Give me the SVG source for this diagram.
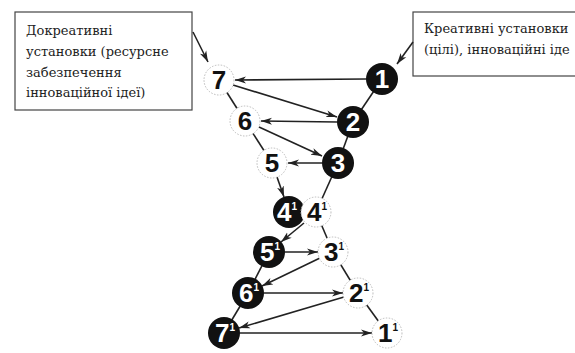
<svg xmlns="http://www.w3.org/2000/svg" width="575" height="353" viewBox="0 0 575 353">
<style>
.box{fill:#fff;stroke:#444;stroke-width:1.2}
.lbl{font-family:"DejaVu Serif","Liberation Serif",serif;font-size:13px;fill:#222}
.bb{stroke:#222;stroke-width:1.6;fill:none}
.ar{stroke:#222;stroke-width:1.6;fill:none;marker-end:url(#ah)}
.w{fill:#fff;stroke:#bbb;stroke-width:1;stroke-dasharray:1.5 1.5}
.k{fill:#111}
.n{font-family:"Liberation Sans",Arial,sans-serif;font-weight:bold;font-size:26px;text-anchor:middle}
.nw{fill:#111}
.nk{fill:#fff}
.sup{font-size:10px}
</style>
<defs>
<marker id="ah" markerUnits="userSpaceOnUse" markerWidth="12" markerHeight="8" refX="11" refY="4" orient="auto">
<path d="M0,0.5 L11,4 L0,7.5 L3,4 Z" fill="#222"/>
</marker>
</defs>
<g id="box-left">
<rect class="box" x="15" y="12" width="177" height="98"/>
<text class="lbl" x="26" y="35">Докреативні</text>
<text class="lbl" x="26" y="56">установки (ресурсне</text>
<text class="lbl" x="26" y="77">забезпечення</text>
<text class="lbl" x="26" y="97">інноваційної ідеї)</text>
</g>
<g id="box-right">
<rect class="box" x="413" y="12" width="170" height="64"/>
<text class="lbl" x="424" y="33">Креативні установки</text>
<text class="lbl" x="424" y="54">(цілі), інноваційні іде</text>
</g>
<g id="connectors">
<line class="bb" x1="219" y1="80" x2="245" y2="121"/>
<line class="bb" x1="245" y1="121" x2="272" y2="163"/>
<line class="bb" x1="382" y1="79" x2="353" y2="122"/>
<line class="bb" x1="353" y1="122" x2="338" y2="163"/>
<line class="bb" x1="338" y1="163" x2="316" y2="212"/>
<line class="bb" x1="316" y1="212" x2="333" y2="252"/>
<line class="bb" x1="333" y1="252" x2="358" y2="293"/>
<line class="bb" x1="358" y1="293" x2="387" y2="333"/>
<line class="bb" x1="269" y1="252" x2="248" y2="293"/>
<line class="bb" x1="248" y1="293" x2="224" y2="333"/>
<line class="ar" x1="193" y1="32" x2="208" y2="62"/>
<line class="ar" x1="413" y1="42" x2="397" y2="64"/>
<line class="ar" x1="366" y1="79" x2="235" y2="80"/>
<line class="ar" x1="233" y1="85" x2="337" y2="117"/>
<line class="ar" x1="337" y1="122" x2="261" y2="121"/>
<line class="ar" x1="259" y1="127" x2="322" y2="156"/>
<line class="ar" x1="322" y1="163" x2="288" y2="163"/>
<line class="ar" x1="277" y1="177" x2="284" y2="197"/>
<line class="ar" x1="304" y1="223" x2="281" y2="242"/>
<line class="ar" x1="285" y1="252" x2="318" y2="252"/>
<line class="ar" x1="320" y1="258" x2="262" y2="286"/>
<line class="ar" x1="264" y1="293" x2="343" y2="293"/>
<line class="ar" x1="344" y1="297" x2="239" y2="328"/>
<line class="ar" x1="240" y1="333" x2="372" y2="333"/>
</g>
<g id="n7"><circle class="w" cx="219" cy="80" r="15"/><text class="n nw" x="219" y="89">7</text></g>
<g id="n1"><circle class="k" cx="382" cy="79" r="16"/><text class="n nk" x="382" y="88">1</text></g>
<g id="n6"><circle class="w" cx="245" cy="121" r="15"/><text class="n nw" x="245" y="130">6</text></g>
<g id="n2"><circle class="k" cx="353" cy="122" r="16"/><text class="n nk" x="353" y="131">2</text></g>
<g id="n5"><circle class="w" cx="272" cy="163" r="15"/><text class="n nw" x="272" y="172">5</text></g>
<g id="n3"><circle class="k" cx="338" cy="163" r="16"/><text class="n nk" x="338" y="172">3</text></g>
<g id="n4"><circle class="k" cx="289" cy="212" r="16"/><text class="n nk" x="287" y="221">4<tspan class="sup" dy="-11">1</tspan></text></g>
<g id="n4p"><circle class="w" cx="316" cy="212" r="15"/><text class="n nw" x="317" y="221">4<tspan class="sup" dy="-11">1</tspan></text></g>
<g id="n5p"><circle class="k" cx="269" cy="252" r="16"/><text class="n nk" x="270" y="261">5<tspan class="sup" dy="-11">1</tspan></text></g>
<g id="n3p"><circle class="w" cx="333" cy="252" r="15"/><text class="n nw" x="334" y="261">3<tspan class="sup" dy="-11">1</tspan></text></g>
<g id="n6p"><circle class="k" cx="248" cy="293" r="16"/><text class="n nk" x="249" y="302">6<tspan class="sup" dy="-11">1</tspan></text></g>
<g id="n2p"><circle class="w" cx="358" cy="293" r="15"/><text class="n nw" x="359" y="302">2<tspan class="sup" dy="-11">1</tspan></text></g>
<g id="n7p"><circle class="k" cx="224" cy="333" r="16"/><text class="n nk" x="225" y="342">7<tspan class="sup" dy="-11">1</tspan></text></g>
<g id="n1p"><circle class="w" cx="387" cy="333" r="15"/><text class="n nw" x="388" y="342">1<tspan class="sup" dy="-11">1</tspan></text></g>
</svg>
